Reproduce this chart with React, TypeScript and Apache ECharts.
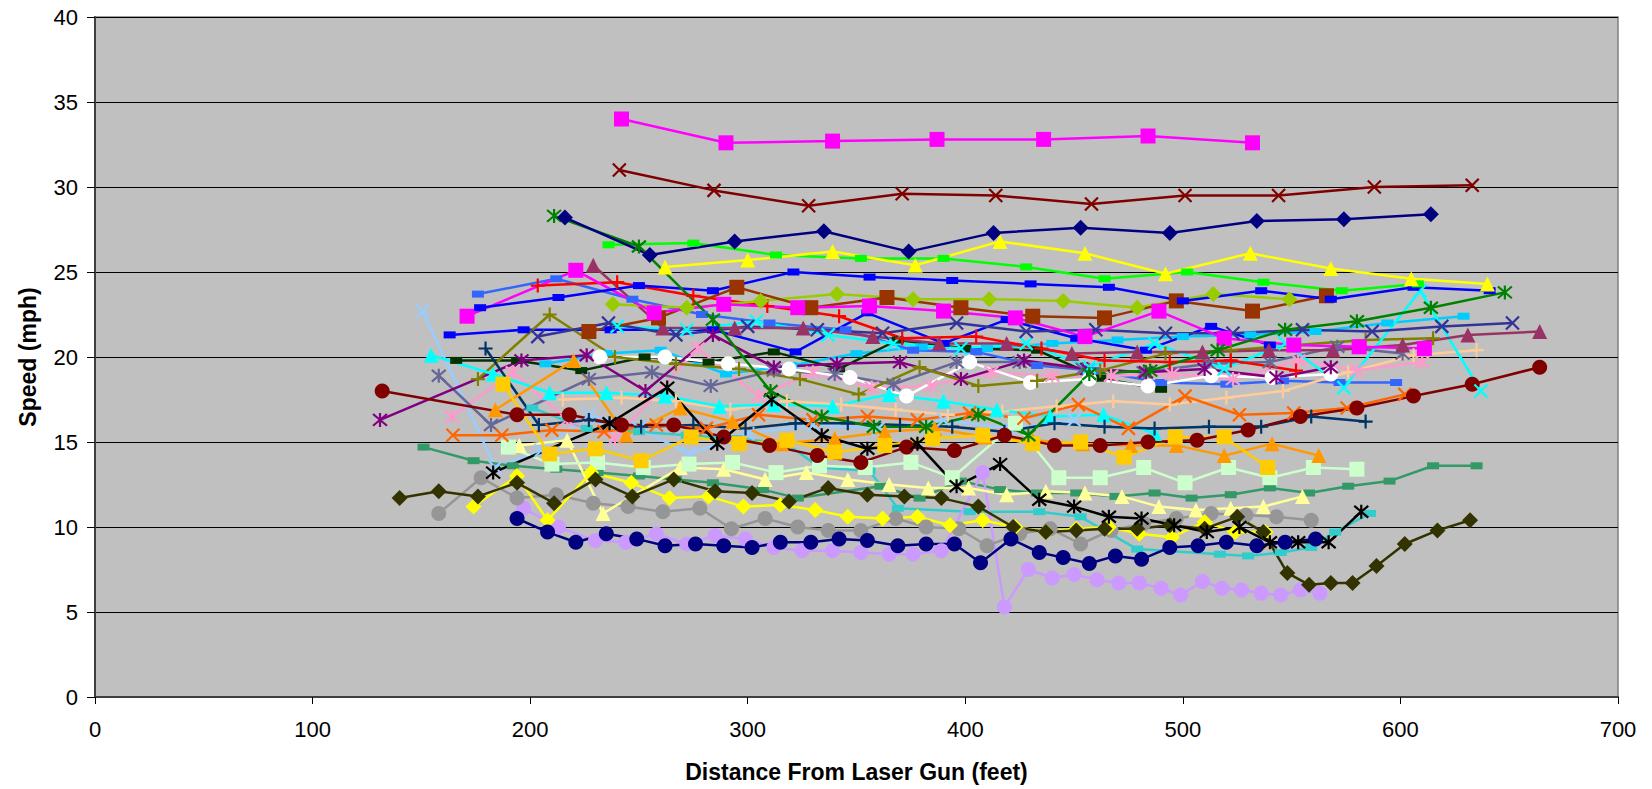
import React, { useEffect, useRef } from "react";
import * as echarts from "echarts";

// ---------- data (distance ft, speed mph) ----------
const s01 = [[242,34.0],[290,32.6],[339,32.7],[387,32.8],[436,32.8],[484,33.0],[532,32.6]];
const s02 = [[241,31.0],[284.5,29.8],[328,28.9],[371,29.6],[414,29.5],[458,29.0],[501,29.5],[544,29.5],[588,30.0],[633,30.1]];
const s03 = [[216,28.2],[255,26.0],[294,26.8],[335,27.4],[374,26.2],[413,27.3],[453,27.6],[494,27.3],[534,28.0],[574,28.1],[614,28.4]];
const s04 = [[236,26.6],[275,26.7],[313,26.0],[352,25.8],[390,25.8],[428,25.3],[464,24.6],[502,25.0],[537,24.4],[573,23.9],[608,24.3]];
const s05 = [[262,25.3],[300,25.7],[339,26.2],[377,25.4],[416,26.8],[455,26.1],[492,24.9],[531,26.1],[568,25.2],[605,24.6],[640,24.3]];
const s06 = [[211,28.3],[250,26.5],[284,22.2],[310.5,18.0],[334,16.5],[358,15.9],[382,15.9],[406,16.6],[429,15.4],[457,19.0],[485,19.2],[516,20.4],[547,21.6],[580,22.1],[614,22.9],[648,23.8]];
const s07 = [[177,22.9],[213,23.5],[250,24.2],[284,23.9],[321,25.0],[356,24.7],[394,24.5],[430,24.3],[466,24.1],[500,23.3],[536,23.9],[568,23.4],[606,24.1],[641,23.9]];
const s08 = [[163,21.3],[197,21.6],[237,21.6],[284,21.6],[322,20.3],[355,22.6],[390,20.8],[419,22.2],[451,21.1],[483,20.4],[513,21.8],[540,20.7]];
const s09 = [[176,23.7],[212,24.6],[247,23.4],[279,22.5],[310,22.0],[345,21.6],[376,20.4],[405,20.3],[433,19.5],[459,19.2],[490,18.5],[520,18.4],[546,18.6],[572,18.5],[598,18.5]];
const s10 = [[171,22.4],[221,25.1],[257,22.6],[289,23.1],[323,22.9],[356,23.0],[390,22.7],[423,22.3],[455,21.2],[489,22.7],[519,21.1],[551,20.7],[581,20.6],[611,20.5]];
const s11 = [[227,21.5],[259,22.3],[295,24.1],[329,22.9],[364,23.5],[398,22.9],[431,22.4],[464,22.3],[497,23.3],[532,22.7],[566,23.6]];
const s12 = [[238,23.1],[272,22.9],[306,23.3],[341,23.7],[376,23.4],[411,23.4],[445,23.3],[479,22.9],[514,23.7],[549,23.4]];
const s13 = [[203.5,24.2],[240,24.4],[275,23.6],[309,23.0],[342,22.4],[371,21.1],[405,21.2],[435,20.5],[464,19.8],[494,19.7],[522,19.8],[552,19.2]];
const s14 = [[229,25.4],[261,21.7],[294,21.7],[325.5,21.7],[357.5,21.2],[388,20.8],[419,20.8],[449,20.2],[479,20.3],[509,20.3],[539.5,20.4],[569,20.4],[601,20.7],[631,21.3],[664,21.5]];
const s15 = [[203.5,21.2],[236,22.0],[267,21.3],[300,21.8],[332,21.6],[362,21.4],[396,22.0],[428,21.5],[460,21.6],[492,21.4],[523,21.4],[555,21.6],[587,21.5],[619,21.8],[651.5,22.0]];
const s16 = [[240,21.8],[272,21.6],[304,22.1],[337,21.3],[367,20.8],[398,20.5],[428,20.8],[457,19.4],[487,20.8],[519,19.3],[547,20.8],[574,18.2],[609,23.9],[637,18.0]];
const s17 = [[166,19.8],[194,19.8],[223.5,19.2],[252.6,20.0],[282,19.7],[312,20.3],[342,19.3],[369,21.0],[400,20.5],[433,20.4],[462,18.75],[490,18.1]];
const s18 = [[176,18.7],[209,22.5],[239,20.0],[267,19.6],[296,19.3],[324,18.7],[351,17.8],[379,19.4],[406,18.3],[433,18.6],[462,19.2],[492,20.2],[522,20.4],[552,20.7],[584,21.0],[615,21.1]];
const s19 = [[232,20.0],[262,20.0],[291,19.6],[319,19.3],[347,18.8],[373,17.7],[402,19.7],[430,18.5],[457,18.7],[484,18.3],[513,18.9],[541,18.8],[568,19.0]];
const s20 = [[131,16.3],[196,19.8],[226,20.1],[253,18.0],[284,21.3],[312,19.4],[341,19.6],[370,19.7],[398,18.7],[427,19.8],[456,19.3],[483,19.1],[510,19.3],[543,18.8],[568,19.4]];
const s21 = [[158,18.9],[182,16.0],[227,18.7],[256,19.1],[283,18.3],[312,19.2],[340,19.0],[367,18.4],[396,19.7],[425,19.7],[454,19.3],[482,19.1],[512,19.6],[540,19.7],[571,20.6],[601,20.2]];
const s22 = [[164,16.5],[192,19.1],[217,16.3],[239,15.2],[277,20.5],[305,17.7],[330,19.1],[357,18.2],[384,18.3],[412,19.1],[440,18.9],[467,18.9],[495,19.0],[523,18.7],[553,19.8],[580,19.2],[610,19.7]];
const s23 = [[215,17.5],[242,17.6],[267,17.4],[292,16.9],[318,17.4],[343,17.2],[368,16.9],[392,16.6],[417,16.8],[442,17.1],[468,17.4],[494,17.2],[520,17.6],[546,18.0],[576,19.1],[606,20.1],[635,20.4]];
const s24 = [[154.5,20.1],[183,19.0],[209,17.9],[235,17.9],[262,17.7],[287,17.1],[312,17.2],[339,17.1],[365,17.8],[390,17.4],[414.5,16.9],[439,16.5],[463.5,16.6],[487,15.5]];
const s25 = [[179.5,20.5],[204,16.0],[227,16.3],[251,15.9],[275,16.0],[299,15.8],[322,16.1],[346,16.1],[370,16.0],[394,15.9],[418,15.6],[441,16.1],[464,15.9],[487,15.8],[512,15.9],[536,15.9],[559,16.5],[584,16.2]];
const s26 = [[132,18.0],[194,16.6],[218,16.6],[242,16.0],[266,16.0],[289,15.3],[310,14.8],[332,14.2],[352,13.8],[373,14.7],[395,14.5],[418,15.4],[441,14.8],[462,14.8],[484,15.0],[506.5,15.1],[530,15.7],[554,16.5],[580,17.0],[606,17.7],[633,18.4],[664,19.4]];
const s27 = [[164.5,15.4],[187,15.4],[210,15.7],[234,15.6],[258,16.0],[281,15.8],[305,16.6],[330,16.3],[355,16.5],[378,16.3],[402,16.7],[427,16.4],[452,17.2],[475,15.8],[501,17.7],[526,16.6],[551,16.7],[575.5,17.0],[602,17.8]];
const s28 = [[184,16.9],[220,19.8],[244,15.4],[269,17.0],[293,16.2],[315.5,14.9],[340,15.2],[363,15.6],[386,15.8],[409,15.3],[431,15.1],[454,14.9],[476,14.8],[497,14.8],[519,14.2],[541,14.9],[562.5,14.2]];
const s29 = [[187.5,18.4],[209,14.3],[230,14.6],[251,13.9],[274,15.3],[296,14.9],[318,15.1],[340,14.4],[363,14.8],[385,15.2],[408,15.4],[431,14.9],[453,15.0],[473,14.1],[496.5,15.3],[519,15.3],[539,13.5]];
const s30 = [[190,14.7],[210,13.7],[231,13.8],[252,13.5],[273,13.7],[293,13.8],[313,13.2],[333,13.6],[354,13.5],[375,13.8],[394,12.9],[423,16.1],[443,12.9],[462,12.9],[482,13.5],[501,12.6],[521,13.5],[540,12.9],[560,13.5],[580,13.4]];
const s31 = [[195,14.8],[217,15.1],[233.5,10.8],[269,13.5],[289,13.4],[308,12.8],[327,13.2],[346,12.8],[365,12.5],[383,12.3],[401.5,12.3],[419,11.9],[437,12.1],[455,12.0],[472,11.8],[489,11.2],[506,11.0],[522,11.1],[537,11.2],[555,11.8]];
const s32 = [[151,14.7],[174,13.9],[192,13.6],[212,13.4],[231,13.2],[250,13.0],[267,12.8],[284,12.6],[307,12.2],[323,11.7],[361,12.4],[379,11.7],[398,12.7],[416,12.2],[433,12.0],[451,12.0],[469,11.8],[487,12.0],[504,11.7],[522,11.9],[540,12.3],[558,12.0],[576,12.4],[595,12.7],[615,13.6],[635,13.6]];
const s33 = [[183,13.2],[236.5,16.1],[263,18.2],[286,14.9],[311,17.5],[334,15.4],[355,14.6],[378,14.9],[396,12.4],[416,13.7],[434,11.6],[450,11.2],[466,10.6],[481,10.5],[496,10.1],[511,9.7],[526,10.0],[540,9.1],[553,9.1],[567,9.1],[582,10.9]];
const s34 = [[158,10.8],[177.5,12.9],[194,11.7],[212,11.9],[229,11.4],[245,11.2],[261,10.9],[278,11.1],[292.5,9.9],[308,10.5],[323,10.0],[337,9.8],[352,9.8],[368,10.5],[382,10.0],[397,9.9],[410,8.9],[425,9.6],[439,9.9],[453,9.0],[467,9.8],[482,10.2],[497,10.5],[513,10.8],[529,10.7],[543,10.6],[559,10.4]];
const s35 = [[140,11.7],[158,12.1],[176,11.8],[194,12.6],[211,11.4],[230,12.8],[247,11.8],[266,12.8],[285,12.1],[302,12.0],[319,11.5],[337,12.3],[355,11.9],[372,11.8],[389,11.7],[406,11.2],[422,10.0],[437,9.7],[451,9.8],[464,9.9],[479,9.9],[494,10.1],[510,9.9],[525,10.6],[537,9.7],[548,7.3],[558,6.6],[568,6.7],[578,6.7],[589,7.7],[602,9.0],[617,9.8],[632,10.4]];
const s36 = [[174,11.2],[194,13.0],[208,10.4],[228,13.2],[246.5,12.6],[264,11.7],[282,11.8],[298,11.2],[315,11.3],[331,11.0],[346,10.6],[362,10.5],[378,10.6],[393,10.1],[408,10.4],[423,10.0],[437,9.7],[451,9.9],[466,10.0],[480,9.6],[495,9.4],[510,10.3],[524,9.7],[538,9.7]];
const s37 = [[194,10.5],[208,9.7],[221,9.1],[235,9.6],[249,9.3],[262,8.9],[276,9.0],[289,8.9],[302,8.8],[315,9.1],[329,9.1],[342,9.3],[355,9.2],[369,8.9],[382,9.0],[395,9.0],[407,7.9],[421,9.3],[434,8.5],[445,8.2],[457,7.85],[469,8.3],[481,8.1],[494,8.8],[507,8.9],[520,9.1],[534,8.9],[547,9.1],[561,9.3]];
const s38 = [[197,11.1],[213,10.0],[230,9.2],[244,9.1],[258,9.6],[272,9.0],[285,9.5],[299,9.3],[312,8.8],[325,8.6],[339,8.6],[352,8.5],[365,8.4],[376,8.4],[389,8.6],[408,13.2],[418,5.3],[429,7.5],[440,7.0],[450,7.2],[460.5,6.9],[470.5,6.7],[480,6.7],[490,6.4],[499,6.0],[509,6.8],[518,6.4],[527,6.3],[536,6.1],[545,6.0],[554,6.3],[563,6.1]];
const s39 = [[201,17.0],[226,15.8],[250,15.6],[272,15.4],[295,15.2],[318,14.9],[333,13.5],[356,13.3],[369,11.1],[402,10.9],[434,10.9],[453,10.6],[479,8.7],[517,8.4],[530,8.3],[545,8.5],[559,8.8],[570,9.7],[586,10.8]];
const s40 = [[150.6,22.7],[184,13.5],[205,14.5],[227,16.6],[250,15.8],[273,14.3],[300,15.5],[330,16.0],[360,15.8],[390,16.3],[420,15.8],[450,16.3]];
const s41 = [[207,19.6],[235,20.2],[260,20.4],[290,19.0],[320,19.5],[350,20.2],[380,20.6],[410,20.5],[440,20.8],[470,21.0],[500,21.2],[531,21.3],[561,21.5],[594,22.0],[629,22.4]];

// ---------- styles ----------
const SYM_X = "path://M0,0L10,10M10,0L0,10";
const SYM_PLUS = "path://M5,0L5,10M0,5L10,5";
const SYM_STAR = "path://M5,0L5,10M0.8,0.8L9.2,9.2M9.2,0.8L0.8,9.2";

type Spec = [number[][], string, string];
const specs: Spec[] = [
  [s41, "#00CCFF", "dash"],
  [s40, "#99CCFF", "x"],
  [s39, "#33CCCC", "dash"],
  [s32, "#339966", "dash"],
  [s17, "#003300", "dash"],
  [s09, "#3366FF", "dash"],
  [s08, "#0000FF", "dash"],
  [s38, "#CC99FF", "circle"],
  [s34, "#969696", "circle"],
  [s31, "#FFFF99", "triangle"],
  [s30, "#CCFFCC", "square"],
  [s23, "#FFCC99", "plus"],
  [s22, "#FF99CC", "star"],
  [s21, "#666699", "star"],
  [s19, "#FFFFFF", "circle"],
  [s20, "#800080", "star"],
  [s18, "#808000", "plus"],
  [s24, "#00FFFF", "triangle"],
  [s25, "#003366", "plus"],
  [s27, "#FF6600", "x"],
  [s28, "#FF9900", "triangle"],
  [s29, "#FFCC00", "square"],
  [s26, "#800000", "circle"],
  [s16, "#00FFFF", "x"],
  [s15, "#333399", "x"],
  [s14, "#993366", "triangle"],
  [s13, "#FF0000", "plus"],
  [s12, "#99CC00", "diamond"],
  [s11, "#993300", "square"],
  [s10, "#FF00FF", "square"],
  [s07, "#0000FF", "dash"],
  [s04, "#00FF00", "dash"],
  [s05, "#FFFF00", "triangle"],
  [s36, "#FFFF00", "diamond"],
  [s35, "#333300", "diamond"],
  [s37, "#000080", "circle"],
  [s33, "#000000", "star"],
  [s06, "#008000", "star"],
  [s03, "#000080", "diamond"],
  [s02, "#800000", "x"],
  [s01, "#FF00FF", "square"],
];

function symbolOf(kind: string): { symbol: string; size: number | number[]; stroke: boolean } {
  switch (kind) {
    case "x": return { symbol: SYM_X, size: 13, stroke: true };
    case "plus": return { symbol: SYM_PLUS, size: 14, stroke: true };
    case "star": return { symbol: SYM_STAR, size: 14, stroke: true };
    case "circle": return { symbol: "circle", size: 15, stroke: false };
    case "square": return { symbol: "rect", size: 15, stroke: false };
    case "triangle": return { symbol: "triangle", size: 15, stroke: false };
    case "diamond": return { symbol: "diamond", size: 16, stroke: false };
    default: return { symbol: "rect", size: [12, 7], stroke: false };
  }
}

const FONT = "'Liberation Sans', Arial, sans-serif";

export default function App() {
  const ref = useRef<HTMLDivElement>(null);
  useEffect(() => {
    if (!ref.current) return;
    const chart = echarts.init(ref.current, undefined, { renderer: "svg" });
    const series = specs.map(([data, color, kind]) => {
      const s = symbolOf(kind);
      return {
        type: "line",
        data,
        symbol: s.symbol,
        symbolSize: s.size,
        showAllSymbol: true,
        silent: true,
        lineStyle: { color, width: 2.5 },
        itemStyle: { color, borderColor: color, borderWidth: s.stroke ? 2.2 : 0 },
        emphasis: { disabled: true },
      };
    });
    chart.setOption({
      animation: false,
      backgroundColor: "#FFFFFF",
      textStyle: { fontFamily: FONT },
      grid: {
        left: 95, right: 34, top: 17, bottom: 92,
        show: true, backgroundColor: "#C0C0C0", borderColor: "#808080", borderWidth: 1.5,
      },
      xAxis: {
        type: "value", min: 0, max: 700, interval: 100,
        name: "Distance From Laser Gun (feet)", nameLocation: "middle", nameGap: 63,
        nameTextStyle: { fontSize: 23, fontWeight: "bold", color: "#000", fontFamily: FONT },
        axisLine: { show: true, onZero: false, lineStyle: { color: "#404040", width: 2 } },
        axisTick: { show: true, length: 7, lineStyle: { color: "#000" } },
        axisLabel: { fontSize: 22, color: "#000", margin: 21, fontFamily: FONT },
        splitLine: { show: false },
      },
      yAxis: {
        type: "value", min: 0, max: 40, interval: 5,
        name: "Speed (mph)", nameLocation: "middle", nameGap: 56,
        nameTextStyle: { fontSize: 23, fontWeight: "bold", color: "#000", fontFamily: FONT },
        axisLine: { show: true, lineStyle: { color: "#404040", width: 2 } },
        axisTick: { show: true, length: 8, lineStyle: { color: "#000" } },
        axisLabel: { fontSize: 22, color: "#000", margin: 17, fontFamily: FONT },
        splitLine: { show: true, lineStyle: { color: "#000", width: 1 } },
      },
      series,
    });
    return () => chart.dispose();
  }, []);
  return (
    <div
      ref={ref}
      style={{ position: "absolute", left: 0, top: 0, width: 1652, height: 789, background: "#fff" }}
    />
  );
}
